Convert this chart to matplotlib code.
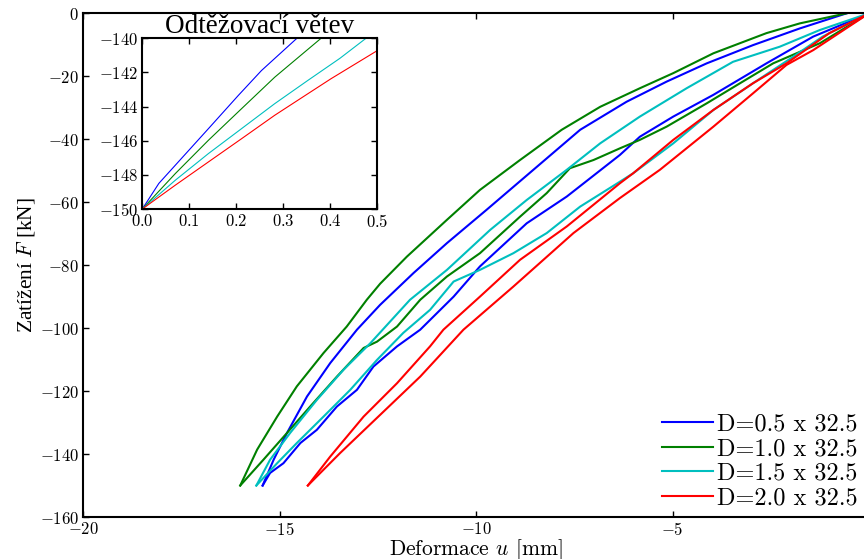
import matplotlib
matplotlib.use("Agg")
import matplotlib.pyplot as plt

plt.rcParams['font.family'] = ['cmr10', 'DejaVu Serif']
plt.rcParams['mathtext.fontset'] = 'cm'
plt.rcParams['axes.formatter.use_mathtext'] = True

# --- zatezovaci krivky (dve vetve pro kazdy prumer) ---
labels = ['D=0.5 x 32.5', 'D=1.0 x 32.5', 'D=1.5 x 32.5', 'D=2.0 x 32.5']
colors = ['b', 'g', 'c', 'r']

u_b1 = [-15.43, -15.15, -14.81, -14.30, -13.71, -13.03, -12.44, -11.59, -10.74, -9.73,
        -8.54, -7.35, -6.17, -5.15, -4.13, -2.95, -1.76, -0.57]
F_b1 = [-150, -141.8, -133.3, -121.7, -111.1, -100.5, -92.6, -82.5, -73.0, -62.4,
        -49.7, -37.0, -28.1, -21.7, -15.9, -10.1, -4.8, 0]
u_b2 = [-15.43, -15.24, -14.90, -14.47, -14.05, -13.54, -13.03, -12.61, -12.01, -11.42,
        -10.57, -9.90, -8.71, -7.69, -6.34, -5.83, -4.98, -3.96, -2.61, -1.42, 0]
F_b2 = [-150, -146.0, -142.9, -136.5, -132.3, -124.9, -119.6, -112.2, -105.8, -100.5,
        -90.0, -80.4, -66.7, -58.2, -45.0, -39.2, -32.8, -25.9, -15.9, -7.4, 0]

u_g1 = [-16.00, -15.57, -15.06, -14.56, -13.88, -13.29, -12.78, -12.44, -11.76, -10.74,
        -9.90, -8.88, -7.82, -6.84, -5.83, -4.98, -3.96, -2.61, -1.76, -0.57]
F_g1 = [-150, -138.6, -128.1, -118.5, -107.9, -99.5, -91.0, -85.9, -77.3, -65.6,
        -56.1, -46.6, -37.0, -29.7, -23.8, -19.0, -12.7, -6.3, -3.2, 0]
u_g2 = [-16.00, -15.41, -14.81, -14.22, -13.54, -12.86, -12.52, -12.01, -11.42, -10.74,
        -9.90, -8.88, -8.20, -7.61, -7.01, -6.34, -5.83, -5.15, -4.13, -3.28, -2.44,
        -1.25, 0]
F_g2 = [-150, -141.8, -133.3, -124.9, -115.4, -106.3, -104.3, -99.5, -91.0, -83.6,
        -76.2, -64.6, -57.1, -49.2, -46.6, -42.9, -40.2, -36.0, -28.6, -22.2, -15.9,
        -9.5, 0]

u_c1 = [-15.59, -15.24, -14.73, -14.05, -13.37, -12.69, -11.68, -10.74, -9.64, -8.71,
        -7.69, -6.84, -5.83, -4.64, -3.46, -2.27, -1.25, 0]
F_c1 = [-150, -141.8, -133.3, -122.8, -113.2, -104.8, -91.0, -81.5, -68.8, -59.3,
        -49.7, -41.3, -32.8, -23.8, -15.4, -10.6, -5.3, 0]
u_c2 = [-15.59, -15.06, -14.56, -13.88, -13.20, -12.52, -11.85, -11.17, -10.57, -9.90,
        -9.05, -8.20, -7.35, -6.34, -6.00, -4.98, -3.96, -2.95, -1.93, -1.18, 0]
F_c2 = [-150, -142.9, -136.5, -128.1, -119.6, -110.1, -101.5, -94.2, -85.2, -81.5,
        -76.2, -69.8, -61.4, -53.5, -50.8, -41.3, -30.7, -22.2, -13.8, -7.4, 0]

u_r1 = [-14.28, -13.71, -12.86, -12.01, -11.17, -10.83, -9.90, -8.88, -7.69, -6.34,
        -6.00, -4.98, -3.96, -2.95, -2.10, -1.01, 0]
F_r1 = [-150, -140.8, -128.1, -117.5, -105.8, -100.5, -90.0, -78.3, -67.7, -54.0,
        -50.8, -40.2, -30.7, -22.2, -15.9, -6.3, 0]
u_r2 = [-14.28, -13.46, -11.42, -10.32, -9.05, -7.52, -6.34, -5.32, -3.96, -2.95,
        -2.10, -1.42, 0]
F_r2 = [-150, -139.7, -115.4, -100.5, -86.8, -69.8, -58.7, -49.7, -36.0, -25.4,
        -16.4, -11.7, 0]

branches = [(u_b1, F_b1, u_b2, F_b2), (u_g1, F_g1, u_g2, F_g2),
            (u_c1, F_c1, u_c2, F_c2), (u_r1, F_r1, u_r2, F_r2)]

# --- odtezovaci vetev (inset) ---
ui_b = [0.0, 0.0352, 0.0704, 0.1056, 0.1408, 0.2042, 0.2535, 0.3289]
Fi_b = [-150, -148.50, -147.43, -146.36, -145.29, -143.35, -141.89, -140.0]
ui_g = [0.0, 0.0704, 0.1408, 0.2113, 0.2817, 0.3803]
Fi_g = [-150, -147.92, -145.97, -144.12, -142.28, -140.0]
ui_c = [0.0, 0.0704, 0.1408, 0.2113, 0.2817, 0.3521, 0.4206, 0.4759]
Fi_c = [-150, -148.31, -146.75, -145.29, -143.83, -142.47, -141.17, -140.0]
ui_r = [0.0, 0.0704, 0.1408, 0.2113, 0.2817, 0.3521, 0.4014, 0.5]
Fi_r = [-150, -148.60, -147.24, -145.88, -144.51, -143.25, -142.37, -140.72]
inset = [(ui_b, Fi_b), (ui_g, Fi_g), (ui_c, Fi_c), (ui_r, Fi_r)]

fig = plt.figure(figsize=(8.64, 5.59), dpi=100)
ax = fig.add_axes([0.0961, 0.0751, 0.9097, 0.9011])

for (ua, Fa, ub, Fb), c, lab in zip(branches, colors, labels):
    ax.plot(ua, Fa, color=c, lw=1.5, label=lab)
    ax.plot(ub, Fb, color=c, lw=1.5)

ax.set_xlim(-20, 0)
ax.set_ylim(-160, 0)
ax.set_xticks([-20, -15, -10, -5, 0])
ax.set_yticks(range(-160, 1, 20))
ax.tick_params(direction='in', top=True, right=False, length=4, width=1, labelsize=12, pad=3)
for s in ax.spines.values():
    s.set_linewidth(1.5)
ax.set_xlabel('Deformace $u$ [mm]', fontsize=15.5, labelpad=-1)
ax.set_ylabel('Zatížení $F$ [kN]', fontsize=15.5, labelpad=2, family='Liberation Serif')

ax.legend(loc='lower right', bbox_to_anchor=(0.985, 0.015), frameon=False,
          fontsize=17.5, handlelength=2.1, handletextpad=0.16, labelspacing=0.1,
          borderaxespad=0, borderpad=0)

axi = fig.add_axes([0.1647, 0.6261, 0.2720, 0.3054])
for (ui, Fi), c in zip(inset, colors):
    axi.plot(ui, Fi, color=c, lw=0.8)
axi.set_xlim(0, 0.5)
axi.set_ylim(-150, -140)
axi.set_xticks([0, 0.1, 0.2, 0.3, 0.4, 0.5])
axi.set_yticks(range(-150, -139, 2))
axi.tick_params(direction='in', top=True, right=True, length=4, width=1, labelsize=12, pad=3)
for s in axi.spines.values():
    s.set_linewidth(1.5)
axi.set_title('Odtěžovací větev', fontsize=19.5, pad=4, family='Liberation Serif')

fig.savefig('out.png', dpi=100)
